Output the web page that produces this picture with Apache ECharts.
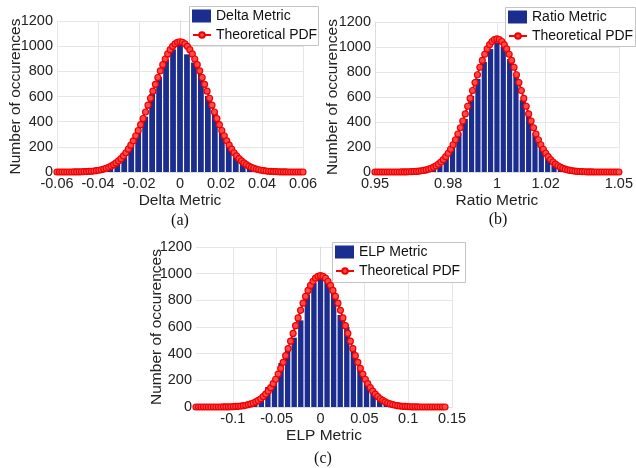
<!DOCTYPE html>
<html>
<head>
<meta charset="utf-8">
<script src="https://cdn.jsdelivr.net/npm/echarts@6/dist/echarts.min.js"></script>
<style>
  html, body { margin: 0; padding: 0; background: #fff; }
  #chart { width: 636px; height: 468px; }
</style>
</head>
<body>
<div id="chart"></div>
<script>
  // ---- histogram bins (bin centres) and counts ----
  const deltaBins = [-0.0476, -0.0442, -0.0408, -0.0374, -0.034, -0.0306, -0.0272, -0.0238, -0.0204, -0.017,
    -0.0136, -0.0102, -0.0068, -0.0034, 0, 0.0034, 0.0068, 0.0102, 0.0136, 0.017, 0.0204, 0.0238, 0.0272,
    0.0306, 0.034, 0.0374, 0.0408, 0.0442, 0.0476];
  const deltaCounts = [2, 5, 12, 24, 45, 82, 140, 215, 335, 440, 620, 755, 890, 975, 1015, 935, 870, 780, 605,
    470, 320, 215, 145, 80, 42, 22, 10, 4, 2];

  const ratioBins = [0.961, 0.9636, 0.9662, 0.9688, 0.9714, 0.974, 0.9766, 0.9792, 0.9818, 0.9844, 0.987,
    0.9896, 0.9922, 0.9948, 0.9974, 1, 1.0026, 1.0052, 1.0078, 1.0104, 1.013, 1.0156, 1.0182, 1.0208, 1.0234,
    1.026, 1.0286, 1.0312, 1.0338, 1.0364, 1.039];
  const ratioCounts = [1, 2, 4, 9, 19, 40, 72, 125, 205, 310, 425, 610, 745, 880, 985, 1035, 1000, 905, 760,
    575, 445, 310, 205, 125, 70, 38, 18, 8, 4, 2, 1];

  const elpBins = [-0.105, -0.0975, -0.09, -0.0825, -0.075, -0.0675, -0.06, -0.0525, -0.045, -0.0375, -0.03,
    -0.0225, -0.015, -0.0075, 0, 0.0075, 0.015, 0.0225, 0.03, 0.0375, 0.045, 0.0525, 0.06, 0.0675, 0.075,
    0.0825, 0.09, 0.0975, 0.105];
  const elpCounts = [1, 3, 8, 17, 36, 70, 150, 200, 330, 430, 520, 650, 845, 930, 960, 940, 860, 690, 600, 430,
    305, 195, 130, 62, 33, 16, 7, 3, 1];

  // ---- theoretical PDF, 101 evenly spaced samples over [start, end] ----
  const deltaPdfRange = [-0.06, 0.06];
  const deltaPdf = [0, 0, 0, 0, 0, 0, 0, 1, 1, 1, 2, 3, 3, 5, 6, 8, 11, 14, 18, 23, 30, 37, 47, 58, 72, 88, 106,
    128, 153, 181, 213, 248, 288, 330, 376, 425, 477, 531, 586, 642, 697, 751, 804, 853, 898, 938, 972, 999,
    1019, 1031, 1035, 1031, 1019, 999, 972, 938, 898, 853, 804, 751, 697, 642, 586, 531, 477, 425, 376, 330,
    288, 248, 213, 181, 153, 128, 106, 88, 72, 58, 47, 37, 30, 23, 18, 14, 11, 8, 6, 5, 3, 3, 2, 1, 1, 1, 0, 0,
    0, 0, 0, 0, 0];

  const ratioPdfRange = [0.95, 1.05];
  const ratioPdf = [0, 0, 0, 0, 0, 0, 0, 0, 0, 0, 0, 1, 1, 1, 2, 3, 4, 5, 7, 10, 13, 17, 23, 30, 39, 50, 63, 80,
    99, 123, 150, 182, 218, 258, 304, 354, 408, 465, 526, 589, 652, 716, 778, 838, 893, 942, 985, 1019, 1044,
    1060, 1065, 1060, 1044, 1019, 985, 942, 893, 838, 778, 716, 652, 589, 526, 465, 408, 354, 304, 258, 218,
    182, 150, 123, 99, 80, 63, 50, 39, 30, 23, 17, 13, 10, 7, 5, 4, 3, 2, 1, 1, 1, 0, 0, 0, 0, 0, 0, 0, 0, 0, 0, 0];

  const elpPdfRange = [-0.142, 0.142];
  const elpPdf = [0, 0, 0, 0, 0, 0, 0, 0, 0, 0, 0, 1, 1, 1, 2, 3, 4, 5, 7, 10, 13, 18, 23, 30, 39, 49, 62, 78,
    97, 119, 145, 175, 208, 247, 289, 335, 385, 438, 494, 552, 610, 668, 725, 779, 829, 874, 912, 943, 966,
    980, 985, 980, 966, 943, 912, 874, 829, 779, 725, 668, 610, 552, 494, 438, 385, 335, 289, 247, 208, 175,
    145, 119, 97, 78, 62, 49, 39, 30, 23, 18, 13, 10, 7, 5, 4, 3, 2, 1, 1, 1, 0, 0, 0, 0, 0, 0, 0, 0, 0, 0, 0];

  // ---- axis ticks ----
  const deltaTicks = [-0.06, -0.04, -0.02, 0, 0.02, 0.04, 0.06];
  const ratioTicks = [0.95, 0.98, 1, 1.02, 1.05];
  const elpTicks = [-0.1, -0.05, 0, 0.05, 0.1, 0.15];
  const countTicks = [0, 200, 400, 600, 800, 1000, 1200];

  const FONT = 'Liberation Sans';
  const BAR_COLOR = '#1b2d8e';
  const PDF_COLOR = '#ff0000';

  // sample positions of the pdf curve
  function samplePositions(range, n) {
    const step = (range[1] - range[0]) / (n - 1);
    const out = [];
    for (let i = 0; i < n; i++) out.push(+(range[0] + i * step).toFixed(6));
    return out;
  }
  function zip(xs, ys) {
    return xs.map((x, i) => [x, ys[i]]);
  }

  const panels = [
    {
      label: 'Delta Metric', caption: '(a)', bins: deltaBins, counts: deltaCounts, binWidth: 0.0034,
      pdf: deltaPdf, pdfRange: deltaPdfRange, ticks: deltaTicks, min: -0.06, max: 0.06,
      grid: { left: 57, top: 21, width: 246, height: 151 }, yNameGap: 33,
      box: [189, 6, 129, 39], caption_xy: [180, 221]
    },
    {
      label: 'Ratio Metric', caption: '(b)', bins: ratioBins, counts: ratioCounts, binWidth: 0.0026,
      pdf: ratioPdf, pdfRange: ratioPdfRange, ticks: ratioTicks, min: 0.95, max: 1.05,
      grid: { left: 375, top: 22, width: 246, height: 150 }, yNameGap: 34,
      box: [505, 7, 130, 39], caption_xy: [498, 220]
    },
    {
      label: 'ELP Metric', caption: '(c)', bins: elpBins, counts: elpCounts, binWidth: 0.0075,
      pdf: elpPdf, pdfRange: elpPdfRange, ticks: elpTicks, min: -0.142, max: 0.15,
      grid: { left: 196, top: 247, width: 256, height: 160 }, yNameGap: 31,
      box: [332, 242, 133, 40], caption_xy: [323, 459]
    }
  ];

  const option = {
    animation: false,
    textStyle: { fontFamily: FONT },
    grid: [],
    xAxis: [],
    yAxis: [],
    series: [],
    legend: [],
    graphic: []
  };

  panels.forEach((p, i) => {
    option.grid.push(Object.assign({ containLabel: false }, p.grid));

    option.xAxis.push({
      type: 'value',
      gridIndex: i,
      min: p.min,
      max: p.max,
      name: p.label,
      nameLocation: 'middle',
      nameGap: 21,
      nameMoveOverlap: false,
      nameTextStyle: { fontSize: 15.5, color: '#222', fontFamily: FONT },
      axisLine: { show: true, lineStyle: { color: '#dcdcdc' } },
      axisTick: { show: false, customValues: p.ticks },
      axisLabel: { customValues: p.ticks, margin: 4, fontSize: 14.5, color: '#222', fontFamily: FONT },
      splitLine: { show: true, lineStyle: { color: '#e6e6e6' } }
    });

    option.yAxis.push({
      type: 'value',
      gridIndex: i,
      min: 0,
      max: 1200,
      interval: 200,
      name: 'Number of occurences',
      nameLocation: 'middle',
      nameGap: p.yNameGap,
      nameMoveOverlap: false,
      nameTextStyle: { fontSize: 15.5, color: '#222', fontFamily: FONT },
      axisLine: { show: true, lineStyle: { color: '#dcdcdc' } },
      axisTick: { show: false },
      axisLabel: {
        customValues: countTicks, margin: 4, fontSize: 14.5, color: '#222', fontFamily: FONT,
        formatter: (v) => String(v)
      },
      splitLine: { show: true, lineStyle: { color: '#e6e6e6' } }
    });

    const pxPerUnit = p.grid.width / (p.max - p.min);
    option.series.push({
      name: p.label,
      type: 'bar',
      xAxisIndex: i,
      yAxisIndex: i,
      barWidth: Math.max(1, p.binWidth * pxPerUnit - 1.2),
      itemStyle: { color: BAR_COLOR },
      data: zip(p.bins, p.counts),
      z: 2
    });
    option.series.push({
      name: 'Theoretical PDF',
      type: 'line',
      xAxisIndex: i,
      yAxisIndex: i,
      symbol: 'circle',
      symbolSize: 6,
      lineStyle: { color: PDF_COLOR, width: 2 },
      itemStyle: { color: '#ff4a4a', borderColor: '#f00000', borderWidth: 1.2 },
      data: zip(samplePositions(p.pdfRange, p.pdf.length), p.pdf),
      z: 3
    });

    // legend: bar entry and pdf entry (separate so the pdf marker stays small)
    const bx = p.box[0], by = p.box[1];
    option.legend.push({
      data: [{ name: p.label, icon: 'rect' }],
      left: bx + 3, top: by + 3,
      padding: 0,
      itemWidth: 19, itemHeight: 13,
      selectedMode: false,
      textStyle: { fontSize: 14, color: '#111', fontFamily: FONT }
    });
    option.legend.push({
      data: ['Theoretical PDF'],
      left: bx + 3, top: by + 22,
      padding: 0,
      itemWidth: 18, itemHeight: 7,
      selectedMode: false,
      textStyle: { fontSize: 14, color: '#111', fontFamily: FONT }
    });

    option.graphic.push({
      type: 'rect',
      z: 3,
      shape: { x: bx + 0.5, y: by + 0.5, width: p.box[2], height: p.box[3] },
      style: { fill: '#fff', stroke: '#c4c4c4', lineWidth: 1 }
    });
    option.graphic.push({
      type: 'text',
      x: p.caption_xy[0],
      y: p.caption_xy[1],
      style: {
        text: p.caption,
        font: '16px "Liberation Serif"',
        fill: '#111',
        textAlign: 'center',
        textVerticalAlign: 'middle'
      }
    });
  });

  const chart = echarts.init(document.getElementById('chart'), null, { renderer: 'canvas' });
  chart.setOption(option);
</script>
</body>
</html>
